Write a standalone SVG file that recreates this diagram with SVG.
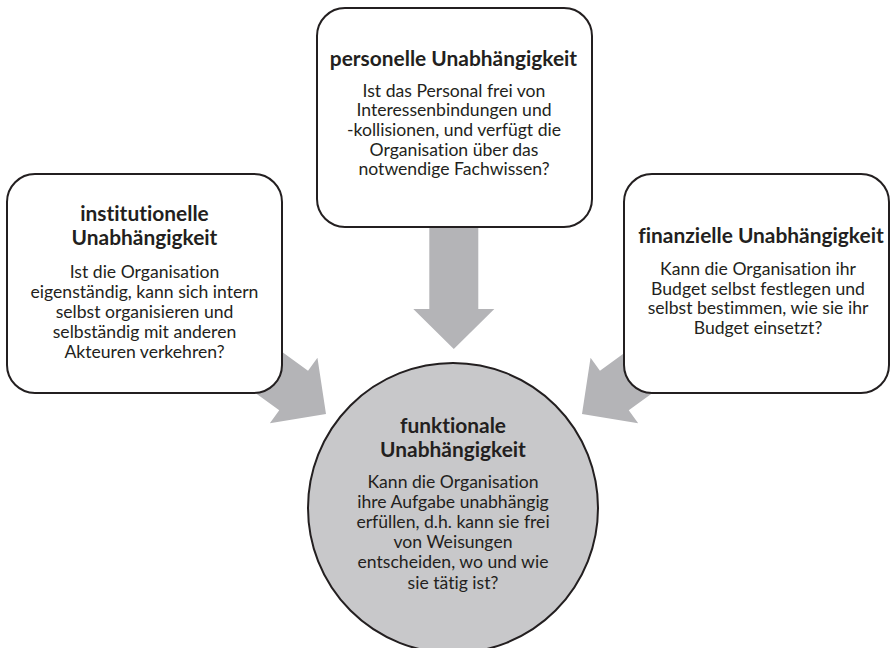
<svg xmlns="http://www.w3.org/2000/svg" width="896" height="648" viewBox="0 0 896 648">
  <style>
    .box { fill: #ffffff; stroke: #231f20; stroke-width: 2; }
    .hub { fill: #c8c8ca; stroke: #231f20; stroke-width: 2; }
    .arrow { fill: #b4b4b7; stroke: none; }
    text { font-family: Lato, "Liberation Sans", sans-serif; fill: #231f20; text-anchor: middle; font-variant-ligatures: none; font-feature-settings: "liga" 0, "clig" 0; }
    .title { font-size: 20.9px; font-weight: bold; }
    .body { font-size: 17.6px; }
  </style>
  <defs>
    <polygon id="arrowShape" points="-150,-24.5 -40,-24.5 -40,-40.5 0,0 -40,40.5 -40,24.5 -150,24.5"/>
  </defs>
  <rect width="896" height="648" fill="#ffffff"/>

  <g id="connectors">
    <use href="#arrowShape" class="arrow" transform="translate(453.8,349) rotate(90)"/>
    <use href="#arrowShape" class="arrow" transform="translate(326,414) rotate(36)"/>
    <use href="#arrowShape" class="arrow" transform="translate(582,414) rotate(144)"/>
  </g>

  <g id="node-personelle">
    <rect class="box" x="317" y="8" width="275" height="219" rx="28" ry="28"/>
    <text class="title" x="453.5" y="66">personelle Unabhängigkeit</text>
    <text class="body" x="454" y="96.7">Ist das Personal frei von</text>
    <text class="body" x="454" y="116.3">Interessenbindungen und</text>
    <text class="body" x="454" y="135.9">-kollisionen, und verfügt die</text>
    <text class="body" x="454" y="155.5">Organisation über das</text>
    <text class="body" x="454" y="175.1">notwendige Fachwissen?</text>
  </g>

  <g id="node-institutionelle">
    <rect class="box" x="7" y="174" width="275" height="219" rx="28" ry="28"/>
    <text class="title" x="144.5" y="220.5">institutionelle</text>
    <text class="title" x="144.5" y="244.5">Unabhängigkeit</text>
    <text class="body" x="144.5" y="278.3">Ist die Organisation</text>
    <text class="body" x="144.5" y="298.3">eigenständig, kann sich intern</text>
    <text class="body" x="144.5" y="318.3">selbst organisieren und</text>
    <text class="body" x="144.5" y="338.3">selbständig mit anderen</text>
    <text class="body" x="144.5" y="358.3">Akteuren verkehren?</text>
  </g>

  <g id="node-finanzielle">
    <rect class="box" x="624" y="174" width="265" height="219" rx="28" ry="28"/>
    <text class="title" x="761" y="243.3">finanzielle Unabhängigkeit</text>
    <text class="body" x="758" y="275">Kann die Organisation ihr</text>
    <text class="body" x="758" y="294.7">Budget selbst festlegen und</text>
    <text class="body" x="758" y="314.4">selbst bestimmen, wie sie ihr</text>
    <text class="body" x="758" y="334.1">Budget einsetzt?</text>
  </g>

  <g id="node-funktionale">
    <circle class="hub" cx="453" cy="508" r="145"/>
    <text class="title" x="453" y="432.5">funktionale</text>
    <text class="title" x="453" y="456.5">Unabhängigkeit</text>
    <text class="body" x="453" y="487.5">Kann die Organisation</text>
    <text class="body" x="453" y="507.7">ihre Aufgabe unabhängig</text>
    <text class="body" x="453" y="527.9">erfüllen, d.h. kann sie frei</text>
    <text class="body" x="453" y="548.1">von Weisungen</text>
    <text class="body" x="453" y="568.3">entscheiden, wo und wie</text>
    <text class="body" x="453" y="588.5">sie tätig ist?</text>
  </g>
</svg>
